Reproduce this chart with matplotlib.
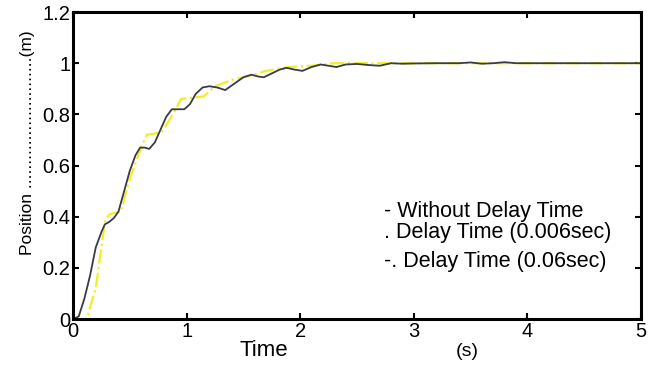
import matplotlib
matplotlib.use("Agg")
import matplotlib.pyplot as plt

plt.rcParams['font.family'] = ['Liberation Sans', 'DejaVu Sans']

# response without delay (dark line)
t_nodelay = [0.0, 0.05, 0.1, 0.15, 0.2, 0.25, 0.28, 0.32, 0.36, 0.40, 0.45, 0.50,
             0.55, 0.59, 0.63, 0.67, 0.72, 0.77, 0.82, 0.87, 0.92, 0.98, 1.03,
             1.08, 1.14, 1.2, 1.27, 1.34, 1.42, 1.5, 1.57, 1.63, 1.68, 1.75,
             1.82, 1.88, 1.95, 2.02, 2.1, 2.18, 2.25, 2.32, 2.4, 2.5, 2.6, 2.7,
             2.8, 2.9, 3.0, 3.2, 3.4, 3.5, 3.6, 3.7, 3.8, 3.9, 4.2, 5.0]
y_nodelay = [0.0, 0.01, 0.08, 0.17, 0.28, 0.34, 0.37, 0.38, 0.395, 0.42, 0.50, 0.58,
             0.64, 0.67, 0.67, 0.665, 0.69, 0.74, 0.79, 0.82, 0.82, 0.82, 0.84,
             0.88, 0.905, 0.91, 0.905, 0.895, 0.92, 0.945, 0.955, 0.948, 0.945, 0.96,
             0.975, 0.982, 0.975, 0.97, 0.985, 0.995, 0.99, 0.985, 0.995, 0.997, 0.993, 0.99,
             1.0, 0.998, 0.999, 1.0, 1.0, 1.003, 0.998, 1.0, 1.004, 1.0, 1.0, 1.0]

# response with 0.06 s delay (yellow dash-dot)
t_delay = [0.0, 0.12, 0.2, 0.28, 0.32, 0.42, 0.5, 0.6, 0.65, 0.78, 0.88, 0.95,
           1.15, 1.25, 1.4, 1.55, 1.7, 1.9, 2.1, 2.3, 5.0]
y_delay = [0.0, 0.0, 0.12, 0.38, 0.41, 0.42, 0.55, 0.67, 0.72, 0.73, 0.80, 0.86,
           0.87, 0.91, 0.935, 0.95, 0.97, 0.985, 0.99, 1.0, 1.0]

legend_lines = ["- Without Delay Time",
                ". Delay Time (0.006sec)",
                "-. Delay Time (0.06sec)"]

fig = plt.figure(figsize=(6.58, 3.65), dpi=100)
ax = fig.add_axes([0.111, 0.126, 0.863, 0.841])

ax.plot(t_delay, y_delay, color='#f0f020', linestyle='-.', linewidth=1.6)
ax.plot(t_nodelay, y_nodelay, color='#3a3a48', linewidth=1.3)

ax.set_xlim(0, 5)
ax.set_ylim(0, 1.2)
ax.set_xticks([0, 1, 2, 3, 4, 5])
ax.set_yticks([0, 0.2, 0.4, 0.6, 0.8, 1, 1.2])
ax.set_yticklabels(['0', '0.2', '0.4', '0.6', '0.8', '1', '1.2'])
ax.tick_params(direction='in', top=True, right=True, length=4, width=1.5,
               labelsize=14.5, pad=2)
for s in ax.spines.values():
    s.set_linewidth(2.2)

fig.text(264 / 658, 1 - 350 / 365, "Time", fontsize=16, ha='center', va='center')
fig.text(467 / 658, 1 - 351 / 365, "(s)", fontsize=14, ha='center', va='center')
fig.text(28 / 658, 1 - 143 / 365, "Position ...........................(m)",
         fontsize=12.5, rotation=90, ha='center', va='center')

ys = [212, 232, 262]
for txt, yp in zip(legend_lines, ys):
    fig.text(384 / 658, 1 - yp / 365, txt, fontsize=15.5, ha='left', va='center')

fig.savefig("out.png", dpi=100)
